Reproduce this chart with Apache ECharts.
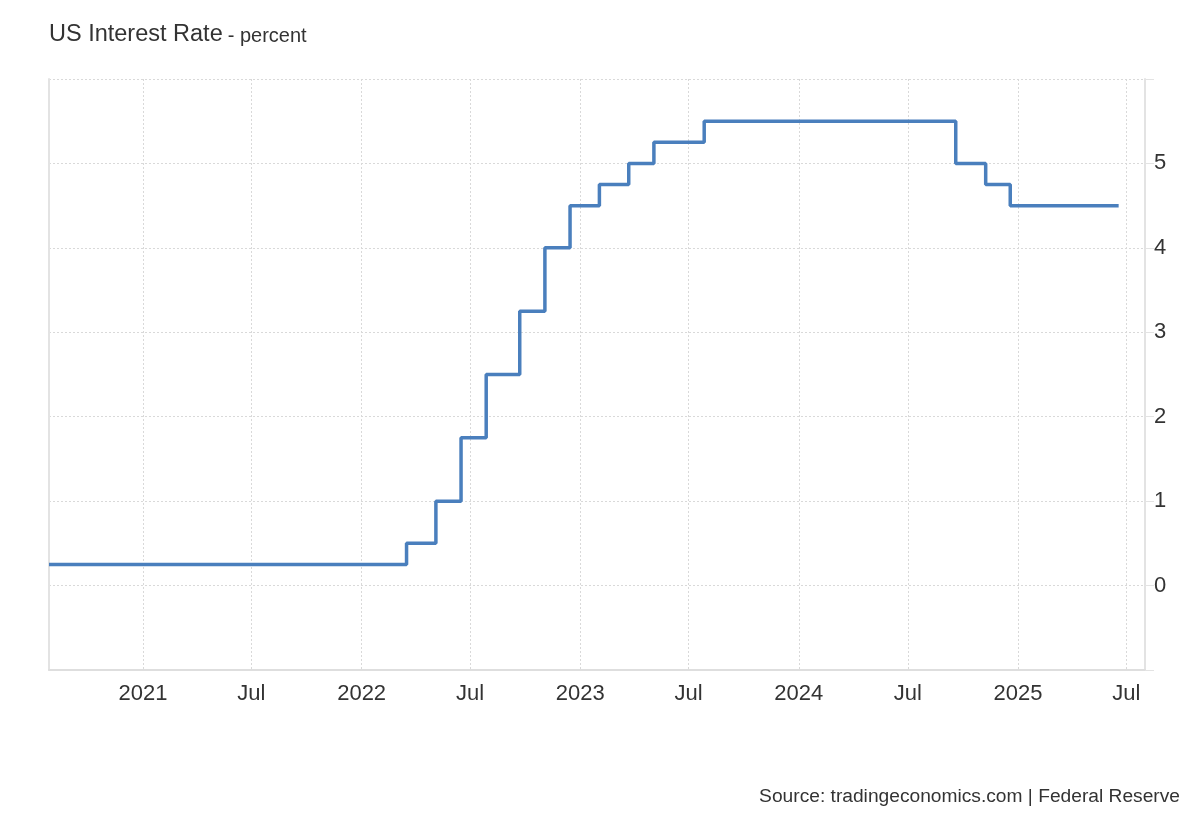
<!DOCTYPE html>
<html>
<head>
<meta charset="utf-8">
<script src="https://cdn.jsdelivr.net/npm/echarts@6/dist/echarts.min.js"></script>
<style>html,body{margin:0;padding:0;background:#fff}#c{width:1200px;height:820px}</style>
</head>
<body>
<div id="c"></div>
<script>
const changeDates = ['2020-07-28','2022-03-17','2022-05-05','2022-06-16','2022-07-28','2022-09-22','2022-11-03','2022-12-15','2023-02-02','2023-03-23','2023-05-04','2023-07-27','2024-09-19','2024-11-08','2024-12-19','2025-06-18'];
const rates = [0.25,0.5,1,1.75,2.5,3.25,4,4.5,4.75,5,5.25,5.5,5,4.75,4.5,4.5];
const xStart = '2020-07-28';
const xEnd = '2025-08-01';
const yTickLabels = ['0','1','2','3','4','5'];

const FONT = '"Liberation Sans", Arial, sans-serif';
const chart = echarts.init(document.getElementById('c'), null, {renderer:'canvas'});
const seriesData = changeDates.map((d,i)=>[d, rates[i]]);
const DAY = 24*3600*1000;

chart.setOption({
  animation:false,
  backgroundColor:'#fff',
  title:{
    left:49, top:23, padding:0,
    text:'{a|US Interest Rate} {b|- percent}',
    textStyle:{fontWeight:'normal', rich:{
      a:{fontSize:23.5, color:'#333', fontFamily:FONT, fontWeight:'normal'},
      b:{fontSize:20, color:'#333', fontFamily:FONT, fontWeight:'normal', padding:[3,0,0,0]}
    }}
  },
  graphic:[{
    type:'text', right:20, top:787,
    style:{text:'Source: tradingeconomics.com | Federal Reserve', fill:'#333', font:'19.2px '+FONT}
  }],
  grid:{left:49, right:55, top:79, bottom:150, containLabel:false},
  xAxis:{
    type:'time',
    min:xStart, max:xEnd,
    minInterval:180*DAY, maxInterval:185*DAY,
    axisLine:{show:true, onZero:false, lineStyle:{color:'#dedede', width:2}},
    axisTick:{show:false},
    axisLabel:{
      color:'#333', fontSize:22, fontFamily:FONT, margin:13,
      formatter:{year:'{yyyy}', month:'{MMM}', day:'{MMM}'},
      hideOverlap:true
    },
    splitLine:{show:true, lineStyle:{color:'#d9d9d9', type:[2,2], width:1}},
    minorTick:{show:false}
  },
  yAxis:[{
    type:'value', position:'right',
    min:-1, max:6, interval:1,
    axisLine:{show:true, onZero:false, lineStyle:{color:'#e3e3e3', width:2}},
    axisTick:{show:true, length:9, lineStyle:{color:'#e3e3e3'}},
    axisLabel:{
      color:'#333', fontSize:22, fontFamily:FONT, margin:9,
      formatter:v=> yTickLabels.includes(String(v)) ? String(v) : ''
    },
    splitLine:{show:true, lineStyle:{color:'#d9d9d9', type:[2,2], width:1}}
  },{
    type:'value', position:'left',
    min:-1, max:6, interval:1,
    axisLine:{show:true, onZero:false, lineStyle:{color:'#e3e3e3', width:2}},
    axisTick:{show:false}, axisLabel:{show:false}, splitLine:{show:false}
  }],
  series:[{
    type:'line', step:'end', data:seriesData, showSymbol:false, yAxisIndex:0,
    lineStyle:{color:'#4a7fbd', width:3.5},
    itemStyle:{color:'#4a7fbd'}
  }]
});
</script>
</body>
</html>
